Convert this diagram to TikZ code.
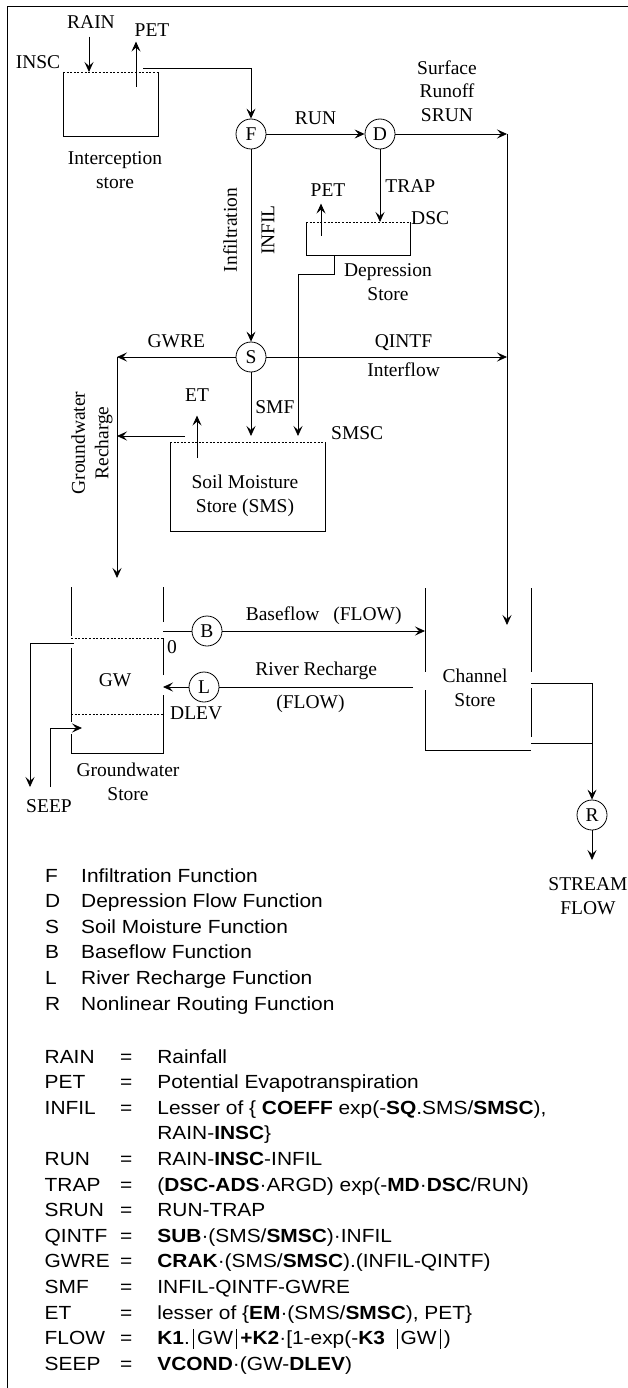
\documentclass[tikz,border=0pt]{standalone}
\usepackage{fontspec}
\setmainfont{Liberation Serif}
\newfontfamily\legendfont[FakeStretch=1.1]{Liberation Sans}
\usetikzlibrary{arrows.meta,positioning,calc}
\newcommand{\labsize}{\fontsize{19.5}{23.5}\selectfont}
\newcommand{\keysize}{\fontsize{19}{25.6}\selectfont}
\newcommand{\absbar}{\rule[-4pt]{0.9pt}{20pt}}
\tikzset{
  fn/.style={draw,circle,minimum size=30pt,inner sep=0pt,line width=0.8pt,font=\labsize},
  lab/.style={font=\labsize,align=center,inner sep=1pt},
  flow/.style={-{Stealth[length=10pt,width=9pt,inset=4pt]},line width=0.8pt},
  link/.style={line width=0.8pt},
  wall/.style={line width=0.9pt},
  level/.style={line width=0.7pt,dash pattern=on 2pt off 1.6pt},
  store/.style={inner sep=0pt,outer sep=0pt},
  key/.style={font=\legendfont\keysize,anchor=north west,inner sep=0pt,align=left}
}

\begin{document}
\begin{tikzpicture}[x=1pt,y=-1pt]
  \useasboundingbox (0,0) rectangle (628,1388);
  % frame
  \draw[line width=1pt] (7,1388) -- (7,7) -- (628,7);

  % interception store
  \node[store,minimum width=95pt,minimum height=64pt] (insc) at (110.5,104) {};
  \draw[level] (insc.north west) -- (insc.north east);
  \draw[wall] (insc.north west) -- (insc.south west) -- (insc.south east) -- (insc.north east);
  \node[lab] (insclab) at (38,62) {INSC};
  \node[lab] (rain) at (91,22) {RAIN};
  \node[lab] (peta) at (152,30) {PET};
  \node[lab] (intlab) at (115,170) {Interception\\store};
  \coordinate (rainin) at (89,72);
  \coordinate (petain) at (136,87);
  \coordinate (inscout) at (143,68);
  \draw[flow,shorten <=7pt] (rain.south -| rainin) -- (rainin);
  \draw[flow,shorten >=4pt] (petain) -- (petain |- peta.south);

  % functions F, D
  \node[fn] (F) at (251,134) {F};
  \node[fn] (D) at (380,134) {D};
  \draw[flow] (inscout) -| (F);
  \draw[flow] (F) -- (D) node[lab,midway,above=8pt] (runlab) {RUN};
  \node[lab] (srunlab) at (447,91) {Surface\\Runoff\\SRUN};
  \coordinate (chtop) at (507,134);
  \coordinate (chin) at (507,625);
  \draw[flow] (D) -- (chtop);
  \draw[flow] (chtop) -- (chin);

  % depression store
  \node[store,minimum width=104pt,minimum height=33pt] (dsc) at (358,238.5) {};
  \draw[level] (dsc.north west) -- (dsc.north east);
  \draw[wall] (dsc.north west) -- (dsc.south west) -- (dsc.south east) -- (dsc.north east);
  \draw[flow] (D) -- (D |- dsc.north) node[lab,midway,right=4pt] (traplab) {TRAP};
  \node[lab,anchor=west] (dsclab) at ([yshift=4pt]dsc.north east) {DSC};
  \node[lab] (petb) at (328,190) {PET};
  \coordinate (petbin) at (321,236);
  \draw[flow,shorten >=6pt] (petbin) -- (petbin |- petb.south);
  \node[lab] (dsclab2) at (388,282) {Depression\\Store};

  % soil moisture
  \node[fn] (S) at (251,357) {S};
  \draw[flow] (F) -- (S);
  \node[lab,rotate=90] (infiltlab) at (230,230) {Infiltration};
  \node[lab,rotate=90] (infillab) at (268,230) {INFIL};
  \node[store,minimum width=155pt,minimum height=89pt] (sms) at (247.5,486.5) {};
  \draw[level] (sms.north west) -- (sms.north east);
  \draw[wall] (sms.north west) -- (sms.south west) -- (sms.south east) -- (sms.north east);
  \node[lab,anchor=west] (smsclab) at ([xshift=5pt,yshift=9pt]sms.north east) {SMSC};
  \node[lab] (smslab) at (245,496) {Soil Moisture\\Store (SMS)};
  \coordinate (dscout) at (334,255);
  \coordinate (dscbend) at (298,274);
  \draw[flow,shorten >=6pt] (dscout) |- (dscbend) -- (dscbend |- sms.north);
  \draw[flow,shorten >=6pt] (S) -- (S |- sms.north) node[lab,midway,right=3pt] (smflab) {SMF};
  \draw[flow] (S) -- (S -| chtop)
    node[lab,pos=0.57,above=5pt] (qintflab) {QINTF}
    node[lab,pos=0.57,below=4pt] (iflab) {Interflow};

  % groundwater recharge
  \coordinate (gwre) at (117,357);
  \coordinate (gwin) at (117,578);
  \draw[flow] (S) -- (gwre) node[lab,midway,above=8pt] (gwrelab) {GWRE};
  \draw[flow] (gwre) -- (gwin);
  \node[lab,rotate=90] (rechlab) at (92,443) {Groundwater\\Recharge};
  \coordinate (smsout) at (185,436);
  \draw[flow] (smsout) -- (smsout -| gwre);
  \coordinate (etout) at (197,458);
  \node[lab] (etlab) at (197,395) {ET};
  \draw[flow,shorten >=13pt] (etout) -- (etlab.south);

  % groundwater store
  \node[store,minimum width=92pt,minimum height=166pt] (gw) at (117,670) {};
  \draw[wall] (gw.north west) -- (71,636);
  \draw[wall] (71,648) -- (71,722);
  \draw[wall] (71,734) -- (gw.south west) -- (gw.south east) -- (163,695);
  \draw[wall] (163,675) -- (163,638);
  \draw[wall] (163,622) -- (gw.north east);
  \draw[level] (71,638) -- (163,638);
  \draw[level] (71,714) -- (163,714);
  \node[lab] (gwlab) at (115,680) {GW};
  \node[lab] (gwslab) at (128,782) {Groundwater\\Store};
  \node[lab,anchor=west] (zerolab) at (166,647) {0};
  \node[lab,anchor=west] (dlevlab) at (169,713) {DLEV};
  \coordinate (seepout) at (74,643);
  \coordinate (seepoutend) at (30,787);
  \coordinate (seepin) at (50,787);
  \coordinate (seepinend) at (82,728);
  \draw[flow] (seepout) -| (seepoutend);
  \draw[flow] (seepin) |- (seepinend);
  \node[lab] (seeplab) at (49,806) {SEEP};

  % channel store
  \node[store,minimum width=106pt,minimum height=162pt] (chan) at (478,669) {};
  \draw[wall] (chan.north west) -- (425,672);
  \draw[wall] (425,690) -- (chan.south west) -- (chan.south east);
  \draw[wall] (chan.north east) -- (531,672);
  \draw[wall] (531,688) -- (531,737);
  \node[lab] (chanlab) at (475,688) {Channel\\Store};

  % baseflow and river recharge
  \node[fn] (B) at (207,631) {B};
  \node[fn] (L) at (204,687) {L};
  \draw[link] (B) -- (B -| gw.east);
  \draw[flow] (B) -- (B -| chan.west)
    node[lab,midway,above=5pt] (bflab) {Baseflow\hspace{14pt}(FLOW)};
  \coordinate (rrin) at (413,687);
  \draw[flow] (L) -- (L -| gw.east);
  \draw[link] (rrin) -- (L)
    node[lab,midway,above=6pt] (rrlab) {River Recharge}
    node[lab,pos=0.53,below=7pt] (rrflab) {(FLOW)};

  % routing
  \node[fn] (R) at (592,815) {R};
  \coordinate (out1) at (531,683);
  \coordinate (out2) at (531,743);
  \coordinate (sfout) at (592,860);
  \draw[flow] (out1) -| (R);
  \draw[link] (out2) -- (out2 -| R);
  \draw[flow] (R) -- (sfout);
  \node[lab] (sflab) at (588,896) {STREAM\\FLOW};

  % legend
  \node[key] (keys) at (45,864) {\begin{tabular}{@{}p{36pt}@{}l@{}}
    F & Infiltration Function\\
    D & Depression Flow Function\\
    S & Soil Moisture Function\\
    B & Baseflow Function\\
    L & River Recharge Function\\
    R & Nonlinear Routing Function
  \end{tabular}};
  \node[key] (eqs) at (44.5,1045) {\begin{tabular}{@{}p{75.5pt}@{}l@{\hspace{25pt}}l@{}}
    RAIN & = & Rainfall\\
    PET & = & Potential Evapotranspiration\\
    INFIL & = & Lesser of \{ \textbf{COEFF} exp(-\textbf{SQ}.SMS/\textbf{SMSC}),\\
     & & RAIN-\textbf{INSC}\}\\
    RUN & = & RAIN-\textbf{INSC}-INFIL\\
    TRAP & = & (\textbf{DSC-ADS}·ARGD) exp(-\textbf{MD}·\textbf{DSC}/RUN)\\
    SRUN & = & RUN-TRAP\\
    QINTF & = & \textbf{SUB}·(SMS/\textbf{SMSC})·INFIL\\
    GWRE & = & \textbf{CRAK}·(SMS/\textbf{SMSC}).(INFIL-QINTF)\\
    SMF & = & INFIL-QINTF-GWRE\\
    ET & = & lesser of \{\textbf{EM}·(SMS/\textbf{SMSC}), PET\}\\
    FLOW & = & \textbf{K1}.\,\absbar\,GW\,\absbar\,\textbf{+K2}·[1-exp(-\textbf{K3}\ \ \absbar\,GW\,\absbar\,)\\
    SEEP & = & \textbf{VCOND}·(GW-\textbf{DLEV})
  \end{tabular}};
\end{tikzpicture}
\end{document}
